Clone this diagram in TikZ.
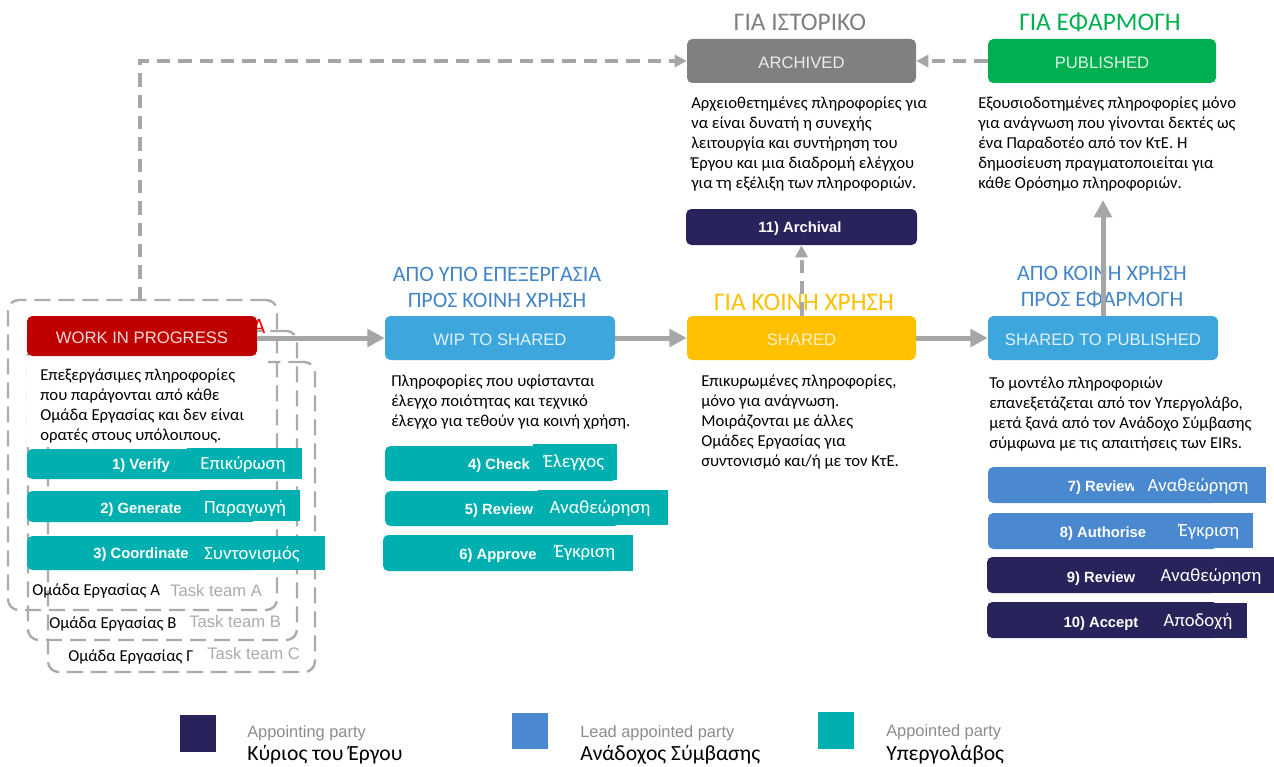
\documentclass[tikz,border=0pt]{standalone}
\usepackage{fontspec}
\setmainfont{Carlito}
\newfontfamily\arialfont{Liberation Sans}
\usetikzlibrary{arrows.meta,fit}

\definecolor{wipred}{HTML}{C00000}
\definecolor{skyblue}{HTML}{3DA6DD}
\definecolor{shyellow}{HTML}{FFC000}
\definecolor{archgray}{HTML}{808080}
\definecolor{pubgreen}{HTML}{00B050}
\definecolor{apnavy}{HTML}{29235C}
\definecolor{leadblue}{HTML}{4A89CF}
\definecolor{apteal}{HTML}{00B0B0}
\definecolor{titleblue}{HTML}{4285C9}
\definecolor{flowgray}{HTML}{A6A6A6}
\definecolor{teamgray}{HTML}{ABABAB}

\tikzset{
  stagebox/.style={rounded corners=4pt, inner sep=0pt},
  boxtxt/.style={font=\arialfont\fontsize{12.5}{14}\selectfont, inner sep=0pt, yshift=-1pt},
  barbox/.style={rounded corners=4pt, inner sep=0pt},
  barcap/.style={inner sep=0pt},
  steplbl/.style={font=\arialfont\bfseries\fontsize{11.1}{12}\selectfont, text=white, inner sep=0pt, yshift=-1.2pt},
  grlbl/.style={font=\fontsize{14}{16}\selectfont, text=white, inner sep=0pt},
  desc/.style={font=\fontsize{12.5}{15}\selectfont, align=left, anchor=north west, inner sep=0pt},
  phase/.style={font=\fontsize{16.5}{19.5}\selectfont, align=center, inner sep=0pt},
  bigphase/.style={font=\fontsize{19}{21}\selectfont, inner sep=0pt},
  flow/.style={draw=flowgray, line width=3.75pt, -{Triangle[length=13pt,width=13pt]}},
  ghost/.style={draw=flowgray, line width=3pt, dash pattern=on 10pt off 6pt,
    -{Triangle[length=9pt,width=9pt]}},
  teambox/.style={draw=teamgray, line width=1.8pt, dash pattern=on 12pt off 6pt,
    rounded corners=8pt, inner sep=0pt},
  teamgr/.style={font=\fontsize{12.5}{14}\selectfont, anchor=west, inner sep=0pt},
  teamen/.style={font=\arialfont\fontsize{12.5}{14}\selectfont, text=teamgray, anchor=west, inner sep=0pt},
  legen/.style={font=\arialfont\fontsize{12.3}{13}\selectfont, text=black!45, anchor=west, inner sep=0pt},
  leggr/.style={font=\fontsize{16.2}{18}\selectfont, anchor=west, inner sep=0pt},
}

\begin{document}
\begin{tikzpicture}[x=0.75pt,y=-0.75pt]
\useasboundingbox[fill=white] (0,0) rectangle (1274,767);

% ---------- task team frames ----------
\node[teambox, fit={(48,362)(315,672)}] (teamC) {};
\node[teambox, fit={(28,331)(297,640)}] (teamB) {};
\node[teambox, fit={(8,300)(277,610)}] (teamA) {};
\fill[white] (27,356) rectangle (268,447);

% ---------- stage boxes ----------
\node[red, font=\fontsize{16.5}{17}\selectfont, inner sep=0pt] (wiphidden) at (259,326) {Α};
\node[stagebox, fill=wipred, fit={(27,316)(257,356)}] (wip) {};
\node[boxtxt, text=white!85!wipred] (wipt) at (wip.center) {WORK IN PROGRESS};
\node[stagebox, fill=skyblue, fit={(385,316)(615,360)}] (wts) {};
\node[boxtxt, text=white!85!skyblue] (wtst) at (wts.center) {WIP TO SHARED};
\node[stagebox, fill=shyellow, fit={(687,316)(916,360)}] (shared) {};
\node[boxtxt, text=white!78!shyellow] (sharedt) at (shared.center) {SHARED};
\node[stagebox, fill=skyblue, fit={(988,316)(1218,360)}] (stp) {};
\node[boxtxt, text=white!85!skyblue] (stpt) at (stp.center) {SHARED TO PUBLISHED};
\node[stagebox, fill=archgray, fit={(687,39)(916,83)}] (archived) {};
\node[boxtxt, text=white!85!archgray] (archivedt) at (archived.center) {ARCHIVED};
\node[stagebox, fill=pubgreen, fit={(988,39)(1216,83)}] (published) {};
\node[boxtxt, text=white!85!pubgreen] (publishedt) at (published.center) {PUBLISHED};

% ---------- phase titles ----------
\node[bigphase, text=archgray] (ttlarch) at (800,22) {ΓΙΑ ΙΣΤΟΡΙΚΟ};
\node[bigphase, text=pubgreen] (ttlpub) at (1100,22) {ΓΙΑ ΕΦΑΡΜΟΓΗ};
\node[phase, text=titleblue] (ttlwts) at (497,287) {ΑΠΟ ΥΠΟ ΕΠΕΞΕΡΓΑΣΙΑ\\ΠΡΟΣ ΚΟΙΝΗ ΧΡΗΣΗ};
\node[phase, text=titleblue] (ttlstp) at (1102,287) {ΑΠΟ ΚΟΙΝΗ ΧΡΗΣΗ\\ΠΡΟΣ ΕΦΑΡΜΟΓΗ};

% ---------- connectors ----------
\coordinate (archtap) at (140,300);
\coordinate (pubtip) at (1103,200);
\draw[ghost] (archtap) |- (archived.west);
\draw[ghost] (published.west) -- (archived.east);
\draw[flow] (wts.west -| wip.east) -- (wts.west);
\draw[flow] (wts.east) -- (shared.west);
\draw[flow] (shared.east) -- (stp.west);
\draw[flow] (stp.north) -- (pubtip);

\node[bigphase, text=shyellow] (ttlsh) at (804,302) {ΓΙΑ ΚΟΙΝΗ ΧΡΗΣΗ};

% ---------- descriptions ----------
\node[desc] (dwip) at (40,368) {Επεξεργάσιμες πληροφορίες\\που παράγονται από κάθε\\Ομάδα Εργασίας και δεν είναι\\ορατές στους υπόλοιπους.};
\node[desc] (dwts) at (391,374) {Πληροφορίες που υφίστανται\\έλεγχο ποιότητας και τεχνικό\\έλεγχο για τεθούν για κοινή χρήση.};
\node[desc] (dsh) at (701,374) {Επικυρωμένες πληροφορίες,\\μόνο για ανάγνωση.\\Μοιράζονται με άλλες\\Ομάδες Εργασίας για\\συντονισμό και/ή με τον ΚτΕ.};
\node[desc] (darch) at (691,96) {Αρχειοθετημένες πληροφορίες για\\να είναι δυνατή η συνεχής\\λειτουργία και συντήρηση του\\Έργου και μια διαδρομή ελέγχου\\για τη  εξέλιξη των πληροφοριών.};
\node[desc] (dpub) at (978,96) {Εξουσιοδοτημένες πληροφορίες μόνο\\για ανάγνωση που γίνονται δεκτές ως\\ένα Παραδοτέο από τον ΚτΕ. Η\\δημοσίευση πραγματοποιείται για\\κάθε Ορόσημο πληροφοριών.};
\node[desc] (dstp) at (989,376) {Το μοντέλο πληροφοριών\\επανεξετάζεται από τον Υπεργολάβο,\\μετά ξανά από τον Ανάδοχο Σύμβασης\\σύμφωνα με τις απαιτήσεις των EIRs.};

% ---------- activity bars ----------
\node[barbox, fill=apnavy, fit={(686,209)(917,245)}] (s11) {};
\node[steplbl] (s11l) at (800,227) {11) Archival};
\draw[ghost] (shared.north) -- (s11.south);

% work in progress column
\node[barbox, fill=apteal, fit={(27,449)(257,479)}] (s1) {};
\node[steplbl] (s1l) at (141,464) {1) Verify};
\node[barcap, fill=apteal, fit={(187,448)(302,479)}] (s1c) {};
\node[grlbl] (s1g) at (243,464) {Επικύρωση};

\node[barbox, fill=apteal, fit={(27,491)(257,522)}] (s2) {};
\node[steplbl] (s2l) at (141,508) {2) Generate};
\node[barcap, fill=apteal, fit={(200,490)(300,521)}] (s2c) {};
\node[grlbl] (s2g) at (245,508) {Παραγωγή};

\node[barbox, fill=apteal, fit={(27,536)(257,570)}] (s3) {};
\node[steplbl] (s3l) at (141,553) {3) Coordinate};
\node[barcap, fill=apteal, fit={(195,536)(325,570)}] (s3c) {};
\node[grlbl] (s3g) at (252,554) {Συντονισμός};

% wip to shared column
\node[barbox, fill=apteal, fit={(385,446)(617,481)}] (s4) {};
\node[steplbl] (s4l) at (499,464) {4) Check};
\node[barcap, fill=apteal, fit={(533,444)(617,480)}] (s4c) {};
\node[grlbl] (s4g) at (574,463) {Έλεγχος};

\node[barbox, fill=apteal, fit={(385,491)(620,526)}] (s5) {};
\node[steplbl] (s5l) at (499,509) {5) Review};
\node[barcap, fill=apteal, fit={(538,490)(668,525)}] (s5c) {};
\node[grlbl] (s5g) at (600,508) {Αναθεώρηση};

\node[barbox, fill=apteal, fit={(383,535)(617,571)}] (s6) {};
\node[steplbl] (s6l) at (498,554) {6) Approve};
\node[barcap, fill=apteal, fit={(542,535)(633,571)}] (s6c) {};
\node[grlbl] (s6g) at (585,553) {Έγκριση};

% shared to published column
\node[barbox, fill=leadblue, fit={(988,467)(1218,503)}] (s7) {};
\node[steplbl] (s7l) at (1102,486) {7) Review};
\node[barcap, fill=leadblue, fit={(1134,467)(1266,503)}] (s7c) {};
\node[grlbl] (s7g) at (1198,486) {Αναθεώρηση};

\node[barbox, fill=leadblue, fit={(988,513)(1218,549)}] (s8) {};
\node[steplbl] (s8l) at (1103,532) {8) Authorise};
\node[barcap, fill=leadblue, fit={(1160,513)(1253,548)}] (s8c) {};
\node[grlbl] (s8g) at (1209,532) {Έγκριση};

\node[barbox, fill=apnavy, fit={(987,557)(1218,593)}] (s9) {};
\node[steplbl] (s9l) at (1101,577) {9) Review};
\node[barcap, fill=apnavy, fit={(1150,557)(1274,593)}] (s9c) {};
\node[grlbl] (s9g) at (1211,576) {Αναθεώρηση};

\node[barbox, fill=apnavy, fit={(987,602)(1218,638)}] (s10) {};
\node[steplbl] (s10l) at (1101,622) {10) Accept};
\node[barcap, fill=apnavy, fit={(1152,603)(1247,638)}] (s10c) {};
\node[grlbl] (s10g) at (1198,621) {Αποδοχή};

% ---------- task team names ----------
\node[teamgr] (tAg) at (32,591) {Ομάδα Εργασίας A};
\node[teamen] (tAe) at (170,591) {Task team A};
\node[teamgr] (tBg) at (49,624) {Ομάδα Εργασίας B};
\node[teamen] (tBe) at (189,622) {Task team B};
\node[teamgr] (tCg) at (68,657) {Ομάδα Εργασίας Γ};
\node[teamen] (tCe) at (207,654) {Task team C};

% ---------- legend ----------
\node[inner sep=0pt, fill=apnavy, fit={(180,715)(216,752)}] (kap) {};
\node[legen] (kapen) at (247,733) {Appointing party};
\node[leggr] (kapgr) at (247,755) {Κύριος του Έργου};
\node[inner sep=0pt, fill=leadblue, fit={(512,713)(548,749)}] (klap) {};
\node[legen] (klapen) at (580,733) {Lead appointed party};
\node[leggr] (klapgr) at (580,755) {Ανάδοχος Σύμβασης};
\node[inner sep=0pt, fill=apteal, fit={(818,712)(854,749)}] (kapp) {};
\node[legen] (kappen) at (886,732) {Appointed party};
\node[leggr] (kappgr) at (886,755) {Υπεργολάβος};
\end{tikzpicture}
\end{document}
